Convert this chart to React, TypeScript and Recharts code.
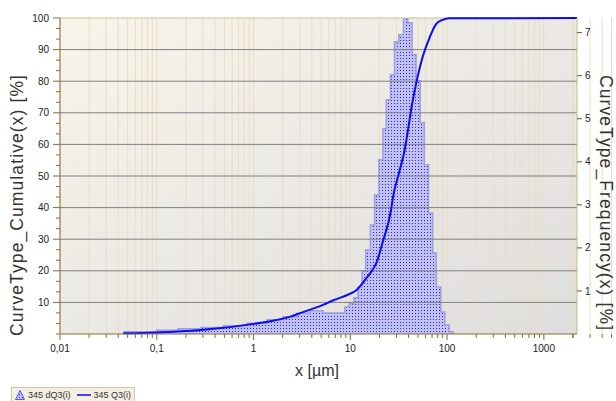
import React from 'react';
import { ComposedChart, Area, Line, XAxis, YAxis, CartesianGrid, ReferenceLine } from 'recharts';

// histogram: bin lower edges (µm) and frequency dQ3 (%), last edge closes the histogram
const histEdges = [0.045, 0.1, 0.166, 0.286, 0.49, 0.86, 1.38, 2.03, 2.81, 3.84, 5.22, 8.78, 9.72, 10.86, 12.02, 13.21, 14.42, 16.11, 17.83, 19.73, 21.7, 23.5, 26.0, 28.6, 31.7, 35.4, 39.2, 43.5, 47.8, 52.8, 58.1, 64.3, 71.0, 77.1, 86.2, 94.7, 104.9, 115.2];
const histFreq = [0.05, 0.09, 0.12, 0.15, 0.19, 0.25, 0.33, 0.4, 0.48, 0.54, 0.49, 0.63, 0.7, 0.84, 1.09, 1.47, 1.95, 2.53, 3.23, 4.05, 4.77, 5.44, 6.02, 6.79, 6.95, 7.33, 7.23, 6.49, 5.88, 4.91, 3.93, 2.81, 1.88, 1.09, 0.51, 0.21, 0.05, 0];

// cumulative Q3 (%)
const cumX = [0.045, 0.1, 0.286, 1, 2.4, 3.03, 5.22, 6.6, 9.86, 11.6, 12.5, 14.7, 17.0, 18.6, 21.5, 26.4, 27.5, 32.2, 36.3, 40.6, 42.5, 47.7, 55.9, 65.4, 76.6, 89.6, 104.9, 2200];
const cumQ = [0.2, 0.5, 1.3, 3.2, 5.5, 6.6, 9.2, 10.6, 12.7, 13.9, 15, 17.7, 20.3, 22.5, 28.9, 39.4, 43, 51.5, 58, 67, 71, 79, 87.7, 93.5, 98, 99.4, 99.9, 100];

const xDecades = [0.01, 0.1, 1, 10, 100, 1000];
const xDecadeLabels = ['0,01', '0,1', '1', '10', '100', '1000'];
const xMults = [1, 2, 3, 4, 5, 6, 7, 8, 9];
const leftMajor = [10, 20, 30, 40, 50, 60, 70, 80, 90, 100];
const rightTicks = [1, 2, 3, 4, 5, 6, 7];

const histData = histEdges.map((x, i) => ({ x, f: histFreq[i] }));
const cumData = cumX.map((x, i) => ({ x, q: cumQ[i] }));

const xTicks = [...xDecades.flatMap((d) => xMults.map((m) => +(d * m).toPrecision(3))), 2000];
const leftTicks = Array.from({ length: 31 }, (_, i) => +(i * 10 / 3).toFixed(3));

const FONT = '"Liberation Sans", Arial, sans-serif';
const AXIS = '#8c6c32';

function XTick({ x, y, payload }: any) {
  const idx = xDecades.findIndex((d) => Math.abs(d - payload.value) / d < 1e-6);
  const major = idx >= 0;
  return (
    <g>
      <line x1={x} x2={x} y1={y} y2={y + (major ? 6 : 4)} stroke={AXIS} />
      {major && (
        <text x={x} y={y + 18} textAnchor="middle" fontSize={10} fontFamily={FONT} fill="#222">
          {xDecadeLabels[idx]}
        </text>
      )}
    </g>
  );
}

function LeftTick({ x, y, payload }: any) {
  const v = payload.value;
  const major = leftMajor.some((m) => Math.abs(m - v) < 1e-6);
  return (
    <g>
      <line x1={x - (major ? 7 : 4)} x2={x} y1={y} y2={y} stroke={AXIS} />
      {major && (
        <text x={x - 11} y={y + 3.6} textAnchor="end" fontSize={10} fontFamily={FONT} fill="#222">
          {v}
        </text>
      )}
    </g>
  );
}

function RightTick({ x, y, payload }: any) {
  return (
    <g>
      <line x1={x} x2={x + 5} y1={y} y2={y} stroke="#555" />
      <text x={x + 8} y={y + 3.6} textAnchor="start" fontSize={10} fontFamily={FONT} fill="#222">
        {payload.value}
      </text>
    </g>
  );
}

export default function App() {
  return (
    <div style={{ position: 'absolute', left: 0, top: 0, width: 616, height: 401, overflow: 'hidden', background: '#fff' }}>
      <ComposedChart width={616} height={401} margin={{ top: 18, right: 0, bottom: 37, left: 0 }}>
        <defs>
          <pattern id="dots" width="3" height="3" patternUnits="userSpaceOnUse">
            <rect width="3" height="3" fill="#c2c2f2" />
            <rect x="1" y="1" width="1" height="1" fill="#2424f0" />
          </pattern>
          <linearGradient id="bg" x1="0" y1="0" x2="1" y2="1">
            <stop offset="0" stopColor="#f8f4ea" />
            <stop offset="1" stopColor="#dedede" />
          </linearGradient>
        </defs>
        <CartesianGrid yAxisId="left" horizontal={false} verticalValues={xTicks} stroke="#e9dec6" fill="url(#bg)" fillOpacity={1} />
        <XAxis
          type="number"
          dataKey="x"
          scale="log"
          domain={[0.01, 2200]}
          allowDataOverflow
          ticks={xTicks}
          interval={0}
          tickSize={0}
          tickMargin={0}
          tick={<XTick />}
          tickLine={false}
          axisLine={{ stroke: AXIS }}
          height={30}
        />
        <YAxis
          yAxisId="left"
          type="number"
          domain={[0, 100]}
          ticks={leftTicks}
          interval={0}
          tickSize={0}
          tickMargin={0}
          tick={<LeftTick />}
          tickLine={false}
          axisLine={{ stroke: AXIS }}
          width={60}
        />
        <YAxis
          yAxisId="right"
          orientation="right"
          type="number"
          domain={[0, 7.34]}
          allowDataOverflow
          ticks={rightTicks}
          interval={0}
          tickSize={0}
          tickMargin={0}
          tick={<RightTick />}
          tickLine={false}
          axisLine={{ stroke: '#cdb88a' }}
          width={39}
        />
        <Area
          yAxisId="right"
          data={histData}
          dataKey="f"
          type="stepAfter"
          stroke="#9e9ee2"
          strokeWidth={1.5}
          fill="url(#dots)"
          fillOpacity={1}
          isAnimationActive={false}
          dot={false}
          activeDot={false}
        />
        {leftMajor.slice(0, 9).map((v) => (
          <ReferenceLine key={v} yAxisId="left" y={v} stroke="#808080" />
        ))}
        <ReferenceLine yAxisId="left" y={100} stroke="#d2bf92" />
        <Line
          yAxisId="left"
          data={cumData}
          dataKey="q"
          type="monotone"
          stroke="#0a0aff"
          strokeWidth={2}
          dot={false}
          activeDot={false}
          isAnimationActive={false}
        />
      </ComposedChart>
      <svg width={616} height={401} style={{ position: 'absolute', left: 0, top: 0, pointerEvents: 'none' }}>
        <text x={23} y={205} transform="rotate(-90 23 205)" textAnchor="middle" fontSize={17.5} letterSpacing={1.1} fontFamily={FONT} fill="#333">
          CurveType_Cumulative(x) [%]
        </text>
        <text x={600} y={203} transform="rotate(90 600 203)" textAnchor="middle" fontSize={17.5} letterSpacing={1.1} fontFamily={FONT} fill="#333">
          CurveType_Frequency(x) [%]
        </text>
        <text x={317} y={376} textAnchor="middle" fontSize={16} fontFamily={FONT} fill="#333">
          x [µm]
        </text>
      </svg>
      <div
        style={{
          position: 'absolute',
          left: 11,
          top: 387,
          width: 124,
          height: 16,
          background: '#f4efe3',
          border: '1px solid #d6c6a2',
          boxSizing: 'border-box',
          display: 'flex',
          alignItems: 'center',
          fontFamily: FONT,
          fontSize: 9,
          color: '#333',
          paddingLeft: 3,
        }}
      >
        <svg width={10} height={10} style={{ marginRight: 3 }}>
          <polygon points="5,0.5 9.5,9.5 0.5,9.5" fill="url(#dots)" stroke="#5a5ae0" />
        </svg>
        <span>345 dQ3(i)</span>
        <svg width={14} height={10} style={{ margin: '0 3px 0 6px' }}>
          <line x1={0} x2={14} y1={5} y2={5} stroke="#0a0aff" strokeWidth={1.5} />
        </svg>
        <span>345 Q3(i)</span>
      </div>
    </div>
  );
}
